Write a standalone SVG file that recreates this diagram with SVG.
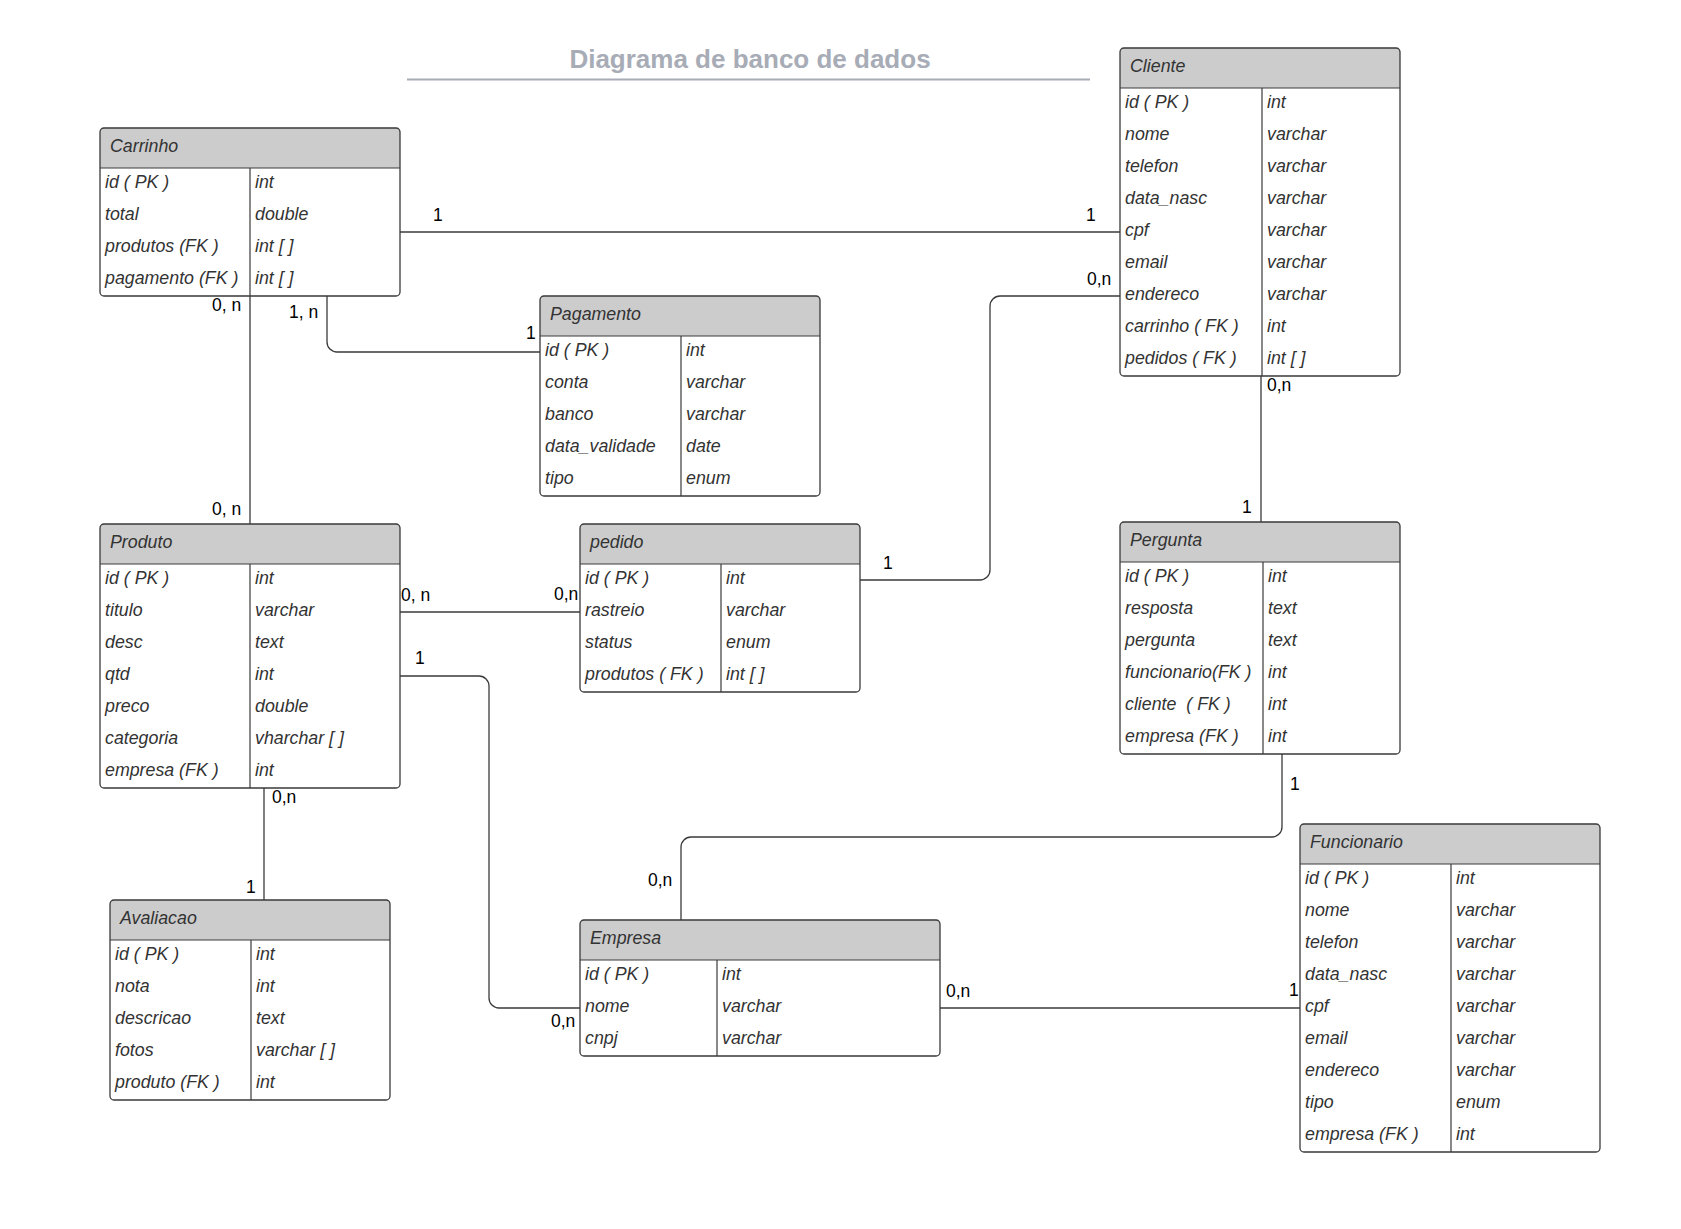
<svg xmlns="http://www.w3.org/2000/svg" width="1681" height="1229" viewBox="0 0 1681 1229">
<style>
text{font-family:"Liberation Sans",Arial,sans-serif;white-space:pre}
.title{font-size:26px;font-weight:bold;fill:#a7acb6}
.hdr{fill:#cccccc;stroke:none}
.box{fill:none;stroke:#3a3a3a;stroke-width:1.3}
.sep{stroke:#3a3a3a;stroke-width:1.2}
.ttl{font-size:17.8px;font-style:italic;fill:#333}
.f{font-size:17.8px;font-style:italic;fill:#333}
.lbl{font-size:17.5px;fill:#000}
.con{fill:none;stroke:#3a3a3a;stroke-width:1.3}
</style>
<rect width="1681" height="1229" fill="#ffffff"/>
<g id="title">
<text class="title" x="750" y="67.7" text-anchor="middle">Diagrama de banco de dados</text>
<line x1="407" y1="79.5" x2="1090" y2="79.5" stroke="#a7acb6" stroke-width="2"/>
</g>

<g id="connectors">
<path class="con" d="M400,232 H1120"/>
<path class="con" d="M327,296 V342 A10,10 0 0 0 337,352 H540"/>
<path class="con" d="M250,296 V524"/>
<path class="con" d="M1120,296 H1000 A10,10 0 0 0 990,306 V570 A10,10 0 0 1 980,580 H860"/>
<path class="con" d="M1261,376 V522"/>
<path class="con" d="M400,612 H580"/>
<path class="con" d="M400,676 H479 A10,10 0 0 1 489,686 V998 A10,10 0 0 0 499,1008 H580"/>
<path class="con" d="M264,788 V900"/>
<path class="con" d="M1282,754 V827 A10,10 0 0 1 1272,837 H691 A10,10 0 0 0 681,847 V920"/>
<path class="con" d="M940,1008 H1300"/>
<text class="lbl" x="433" y="221">1</text>
<text class="lbl" x="1086" y="221">1</text>
<text class="lbl" x="212" y="311">0, n</text>
<text class="lbl" x="289" y="318">1, n</text>
<text class="lbl" x="526" y="339">1</text>
<text class="lbl" x="212" y="515">0, n</text>
<text class="lbl" x="1087" y="285">0,n</text>
<text class="lbl" x="883" y="569">1</text>
<text class="lbl" x="1267" y="391">0,n</text>
<text class="lbl" x="1242" y="513">1</text>
<text class="lbl" x="401" y="601">0, n</text>
<text class="lbl" x="554" y="600">0,n</text>
<text class="lbl" x="415" y="664">1</text>
<text class="lbl" x="551" y="1027">0,n</text>
<text class="lbl" x="272" y="803">0,n</text>
<text class="lbl" x="246" y="893">1</text>
<text class="lbl" x="1290" y="790">1</text>
<text class="lbl" x="648" y="886">0,n</text>
<text class="lbl" x="946" y="997">0,n</text>
<text class="lbl" x="1289" y="996">1</text>
</g>

<g id="carrinho" transform="translate(100,128)">
<path class="hdr" d="M0,40 V4 A4,4 0 0 1 4,0 H296 A4,4 0 0 1 300,4 V40 Z"/>
<rect class="box" width="300" height="168" rx="4"/>
<line class="sep" x1="0" y1="40" x2="300" y2="40"/>
<line class="sep" x1="150" y1="40" x2="150" y2="168"/>
<text class="ttl" x="10" y="24">Carrinho</text>
<text class="f" x="5" y="59.5">id ( PK )</text><text class="f" x="155" y="59.5">int</text>
<text class="f" x="5" y="91.5">total</text><text class="f" x="155" y="91.5">double</text>
<text class="f" x="5" y="123.5">produtos (FK )</text><text class="f" x="155" y="123.5">int [ ]</text>
<text class="f" x="5" y="155.5">pagamento (FK )</text><text class="f" x="155" y="155.5">int [ ]</text>
</g>

<g id="cliente" transform="translate(1120,48)">
<path class="hdr" d="M0,40 V4 A4,4 0 0 1 4,0 H276 A4,4 0 0 1 280,4 V40 Z"/>
<rect class="box" width="280" height="328" rx="4"/>
<line class="sep" x1="0" y1="40" x2="280" y2="40"/>
<line class="sep" x1="142" y1="40" x2="142" y2="328"/>
<text class="ttl" x="10" y="24">Cliente</text>
<text class="f" x="5" y="59.5">id ( PK )</text><text class="f" x="147" y="59.5">int</text>
<text class="f" x="5" y="91.5">nome</text><text class="f" x="147" y="91.5">varchar</text>
<text class="f" x="5" y="123.5">telefon</text><text class="f" x="147" y="123.5">varchar</text>
<text class="f" x="5" y="155.5">data_nasc</text><text class="f" x="147" y="155.5">varchar</text>
<text class="f" x="5" y="187.5">cpf</text><text class="f" x="147" y="187.5">varchar</text>
<text class="f" x="5" y="219.5">email</text><text class="f" x="147" y="219.5">varchar</text>
<text class="f" x="5" y="251.5">endereco</text><text class="f" x="147" y="251.5">varchar</text>
<text class="f" x="5" y="283.5">carrinho ( FK )</text><text class="f" x="147" y="283.5">int</text>
<text class="f" x="5" y="315.5">pedidos ( FK )</text><text class="f" x="147" y="315.5">int [ ]</text>
</g>

<g id="pagamento" transform="translate(540,296)">
<path class="hdr" d="M0,40 V4 A4,4 0 0 1 4,0 H276 A4,4 0 0 1 280,4 V40 Z"/>
<rect class="box" width="280" height="200" rx="4"/>
<line class="sep" x1="0" y1="40" x2="280" y2="40"/>
<line class="sep" x1="141" y1="40" x2="141" y2="200"/>
<text class="ttl" x="10" y="24">Pagamento</text>
<text class="f" x="5" y="59.5">id ( PK )</text><text class="f" x="146" y="59.5">int</text>
<text class="f" x="5" y="91.5">conta</text><text class="f" x="146" y="91.5">varchar</text>
<text class="f" x="5" y="123.5">banco</text><text class="f" x="146" y="123.5">varchar</text>
<text class="f" x="5" y="155.5">data_validade</text><text class="f" x="146" y="155.5">date</text>
<text class="f" x="5" y="187.5">tipo</text><text class="f" x="146" y="187.5">enum</text>
</g>

<g id="produto" transform="translate(100,524)">
<path class="hdr" d="M0,40 V4 A4,4 0 0 1 4,0 H296 A4,4 0 0 1 300,4 V40 Z"/>
<rect class="box" width="300" height="264" rx="4"/>
<line class="sep" x1="0" y1="40" x2="300" y2="40"/>
<line class="sep" x1="150" y1="40" x2="150" y2="264"/>
<text class="ttl" x="10" y="24">Produto</text>
<text class="f" x="5" y="59.5">id ( PK )</text><text class="f" x="155" y="59.5">int</text>
<text class="f" x="5" y="91.5">titulo</text><text class="f" x="155" y="91.5">varchar</text>
<text class="f" x="5" y="123.5">desc</text><text class="f" x="155" y="123.5">text</text>
<text class="f" x="5" y="155.5">qtd</text><text class="f" x="155" y="155.5">int</text>
<text class="f" x="5" y="187.5">preco</text><text class="f" x="155" y="187.5">double</text>
<text class="f" x="5" y="219.5">categoria</text><text class="f" x="155" y="219.5">vharchar [ ]</text>
<text class="f" x="5" y="251.5">empresa (FK )</text><text class="f" x="155" y="251.5">int</text>
</g>

<g id="pedido" transform="translate(580,524)">
<path class="hdr" d="M0,40 V4 A4,4 0 0 1 4,0 H276 A4,4 0 0 1 280,4 V40 Z"/>
<rect class="box" width="280" height="168" rx="4"/>
<line class="sep" x1="0" y1="40" x2="280" y2="40"/>
<line class="sep" x1="141" y1="40" x2="141" y2="168"/>
<text class="ttl" x="10" y="24">pedido</text>
<text class="f" x="5" y="59.5">id ( PK )</text><text class="f" x="146" y="59.5">int</text>
<text class="f" x="5" y="91.5">rastreio</text><text class="f" x="146" y="91.5">varchar</text>
<text class="f" x="5" y="123.5">status</text><text class="f" x="146" y="123.5">enum</text>
<text class="f" x="5" y="155.5">produtos ( FK )</text><text class="f" x="146" y="155.5">int [ ]</text>
</g>

<g id="pergunta" transform="translate(1120,522)">
<path class="hdr" d="M0,40 V4 A4,4 0 0 1 4,0 H276 A4,4 0 0 1 280,4 V40 Z"/>
<rect class="box" width="280" height="232" rx="4"/>
<line class="sep" x1="0" y1="40" x2="280" y2="40"/>
<line class="sep" x1="143" y1="40" x2="143" y2="232"/>
<text class="ttl" x="10" y="24">Pergunta</text>
<text class="f" x="5" y="59.5">id ( PK )</text><text class="f" x="148" y="59.5">int</text>
<text class="f" x="5" y="91.5">resposta</text><text class="f" x="148" y="91.5">text</text>
<text class="f" x="5" y="123.5">pergunta</text><text class="f" x="148" y="123.5">text</text>
<text class="f" x="5" y="155.5">funcionario(FK )</text><text class="f" x="148" y="155.5">int</text>
<text class="f" x="5" y="187.5">cliente  ( FK )</text><text class="f" x="148" y="187.5">int</text>
<text class="f" x="5" y="219.5">empresa (FK )</text><text class="f" x="148" y="219.5">int</text>
</g>

<g id="avaliacao" transform="translate(110,900)">
<path class="hdr" d="M0,40 V4 A4,4 0 0 1 4,0 H276 A4,4 0 0 1 280,4 V40 Z"/>
<rect class="box" width="280" height="200" rx="4"/>
<line class="sep" x1="0" y1="40" x2="280" y2="40"/>
<line class="sep" x1="141" y1="40" x2="141" y2="200"/>
<text class="ttl" x="10" y="24">Avaliacao</text>
<text class="f" x="5" y="59.5">id ( PK )</text><text class="f" x="146" y="59.5">int</text>
<text class="f" x="5" y="91.5">nota</text><text class="f" x="146" y="91.5">int</text>
<text class="f" x="5" y="123.5">descricao</text><text class="f" x="146" y="123.5">text</text>
<text class="f" x="5" y="155.5">fotos</text><text class="f" x="146" y="155.5">varchar [ ]</text>
<text class="f" x="5" y="187.5">produto (FK )</text><text class="f" x="146" y="187.5">int</text>
</g>

<g id="empresa" transform="translate(580,920)">
<path class="hdr" d="M0,40 V4 A4,4 0 0 1 4,0 H356 A4,4 0 0 1 360,4 V40 Z"/>
<rect class="box" width="360" height="136" rx="4"/>
<line class="sep" x1="0" y1="40" x2="360" y2="40"/>
<line class="sep" x1="137" y1="40" x2="137" y2="136"/>
<text class="ttl" x="10" y="24">Empresa</text>
<text class="f" x="5" y="59.5">id ( PK )</text><text class="f" x="142" y="59.5">int</text>
<text class="f" x="5" y="91.5">nome</text><text class="f" x="142" y="91.5">varchar</text>
<text class="f" x="5" y="123.5">cnpj</text><text class="f" x="142" y="123.5">varchar</text>
</g>

<g id="funcionario" transform="translate(1300,824)">
<path class="hdr" d="M0,40 V4 A4,4 0 0 1 4,0 H296 A4,4 0 0 1 300,4 V40 Z"/>
<rect class="box" width="300" height="328" rx="4"/>
<line class="sep" x1="0" y1="40" x2="300" y2="40"/>
<line class="sep" x1="151" y1="40" x2="151" y2="328"/>
<text class="ttl" x="10" y="24">Funcionario</text>
<text class="f" x="5" y="59.5">id ( PK )</text><text class="f" x="156" y="59.5">int</text>
<text class="f" x="5" y="91.5">nome</text><text class="f" x="156" y="91.5">varchar</text>
<text class="f" x="5" y="123.5">telefon</text><text class="f" x="156" y="123.5">varchar</text>
<text class="f" x="5" y="155.5">data_nasc</text><text class="f" x="156" y="155.5">varchar</text>
<text class="f" x="5" y="187.5">cpf</text><text class="f" x="156" y="187.5">varchar</text>
<text class="f" x="5" y="219.5">email</text><text class="f" x="156" y="219.5">varchar</text>
<text class="f" x="5" y="251.5">endereco</text><text class="f" x="156" y="251.5">varchar</text>
<text class="f" x="5" y="283.5">tipo</text><text class="f" x="156" y="283.5">enum</text>
<text class="f" x="5" y="315.5">empresa (FK )</text><text class="f" x="156" y="315.5">int</text>
</g>
</svg>
